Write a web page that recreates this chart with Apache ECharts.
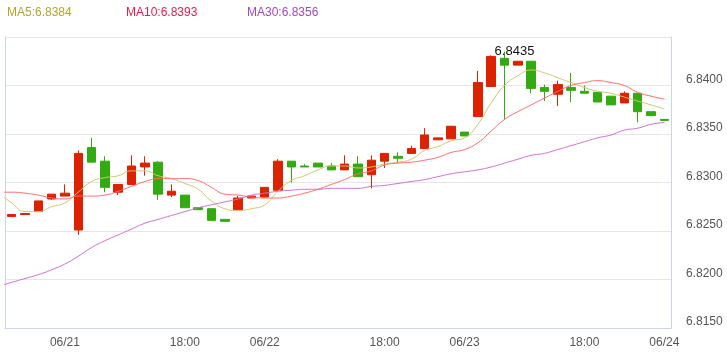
<!DOCTYPE html>
<html>
<head>
<meta charset="utf-8">
<script src="https://cdn.jsdelivr.net/npm/echarts@6/dist/echarts.min.js"></script>
<style>
  html, body { margin: 0; padding: 0; background: #fff; }
  #chart { width: 727px; height: 355px; }
</style>
</head>
<body>
<div id="chart"></div>
<script>
// x-axis labels sit on these candle indices
const labelIdx = [4, 13, 19, 28, 34, 43, 49];
const labelText = ['06/21', '18:00', '06/22', '18:00', '06/23', '18:00', '06/24'];
const candleCount = 50;

// OHLC
const openV = [6.8265, 6.8267, 6.8270, 6.8283, 6.8286, 6.8251, 6.8336, 6.8322, 6.8290, 6.8298,
  6.8316, 6.8321, 6.8287, 6.8287, 6.8274, 6.8273, 6.8262, 6.8272, 6.8284, 6.8285,
  6.8292, 6.8322, 6.8317, 6.8320, 6.8317, 6.8313, 6.8319, 6.8308, 6.8322, 6.8327,
  6.8330, 6.8335, 6.8344, 6.8345, 6.8352, 6.8368, 6.8399, 6.8428, 6.8421, 6.8425,
  6.8398, 6.8391, 6.8398, 6.8394, 6.8393, 6.8389, 6.8382, 6.8392, 6.8373, 6.8365];
const closeV = [6.8267, 6.8268, 6.8281, 6.8288, 6.8289, 6.8330, 6.8321, 6.8295, 6.8298, 6.8317,
  6.8320, 6.8288, 6.8291, 6.8274, 6.8272, 6.8261, 6.8260, 6.8284, 6.8286, 6.8295,
  6.8322, 6.8316, 6.8316, 6.8316, 6.8313, 6.8319, 6.8306, 6.8323, 6.8330, 6.8325,
  6.8335, 6.8349, 6.8346, 6.8358, 6.8348, 6.8403, 6.8430, 6.8421, 6.8425, 6.8397,
  6.8394, 6.8401, 6.8395, 6.8392, 6.8383, 6.8380, 6.8392, 6.8373, 6.8369, 6.8364];
const lowV = [6.8265, 6.8267, 6.8270, 6.8282, 6.8286, 6.8246, 6.8321, 6.8290, 6.8287, 6.8298,
  6.8307, 6.8282, 6.8285, 6.8274, 6.8272, 6.8261, 6.8260, 6.8272, 6.8284, 6.8285,
  6.8292, 6.8300, 6.8316, 6.8316, 6.8313, 6.8313, 6.8306, 6.8294, 6.8315, 6.8320,
  6.8330, 6.8335, 6.8344, 6.8345, 6.8348, 6.8368, 6.8399, 6.8365, 6.8421, 6.8392,
  6.8384, 6.8379, 6.8383, 6.8392, 6.8383, 6.8380, 6.8382, 6.8362, 6.8369, 6.8364];
const highV = [6.8267, 6.8268, 6.8281, 6.8288, 6.8298, 6.8333, 6.8346, 6.8327, 6.8298, 6.8328,
  6.8327, 6.8322, 6.8298, 6.8287, 6.8274, 6.8273, 6.8262, 6.8286, 6.8286, 6.8295,
  6.8324, 6.8322, 6.8319, 6.8320, 6.8320, 6.8328, 6.8327, 6.8328, 6.8330, 6.8331,
  6.8338, 6.8356, 6.8346, 6.8358, 6.8352, 6.8415, 6.8431, 6.8435, 6.8425, 6.8425,
  6.8401, 6.8405, 6.8413, 6.8400, 6.8393, 6.8389, 6.8394, 6.8392, 6.8373, 6.8365];

// moving averages, first value belongs to the candle just left of the window (index -1)
const ma5 = [6.8289, 6.8279, 6.8270, 6.8270, 6.8275, 6.8279, 6.8290, 6.8301, 6.8305, 6.8307,
  6.8312, 6.8312, 6.8307, 6.8304, 6.8299, 6.8293, 6.8281, 6.8273, 6.8271, 6.8273,
  6.8277, 6.8291, 6.8302, 6.8307, 6.8313, 6.8317, 6.8317, 6.8315, 6.8316, 6.8319,
  6.8321, 6.8324, 6.8333, 6.8337, 6.8343, 6.8346, 6.8360, 6.8382, 6.8400, 6.8410,
  6.8416, 6.8413, 6.8408, 6.8403, 6.8398, 6.8394, 6.8392, 6.8388, 6.8384, 6.8380, 6.8376];
const ma10 = [6.8290, 6.8290, 6.8289, 6.8287, 6.8284, 6.8283, 6.8286, 6.8286, 6.8287, 6.8291,
  6.8296, 6.8301, 6.8304, 6.8304, 6.8304, 6.8302, 6.8295, 6.8288, 6.8287, 6.8285,
  6.8284, 6.8284, 6.8286, 6.8289, 6.8293, 6.8298, 6.8303, 6.8309, 6.8312, 6.8318,
  6.8320, 6.8321, 6.8323, 6.8326, 6.8331, 6.8334, 6.8341, 6.8353, 6.8365, 6.8373,
  6.8380, 6.8387, 6.8394, 6.8400, 6.8403, 6.8405, 6.8403, 6.8400, 6.8393, 6.8389, 6.8386];
const ma30 = [6.8193, 6.8197, 6.8201, 6.8205, 6.8210, 6.8216, 6.8224, 6.8233, 6.8240, 6.8246,
  6.8252, 6.8258, 6.8262, 6.8266, 6.8270, 6.8274, 6.8277, 6.8280, 6.8283, 6.8287,
  6.8289, 6.8291, 6.8292, 6.8293, 6.8293, 6.8294, 6.8294, 6.8294, 6.8296, 6.8297,
  6.8299, 6.8301, 6.8303, 6.8306, 6.8309, 6.8311, 6.8313, 6.8316, 6.8320, 6.8324,
  6.8328, 6.8330, 6.8334, 6.8338, 6.8342, 6.8346, 6.8349, 6.8354, 6.8356, 6.8360, 6.8362];

// legend shows the averages at this candle
const legendIdx = 47;

const categories = [];
for (let i = 0; i < candleCount; i++) {
  const k = labelIdx.indexOf(i);
  categories.push(k >= 0 ? labelText[k] : String(i));
}
const candles = openV.map((o, i) => [o, closeV[i], lowV[i], highV[i]]);
const toLine = arr => arr.map((v, i) => [i - 1, v]);

const chart = echarts.init(document.getElementById('chart'), null, { renderer: 'canvas' });

const maDefs = [
  { name: 'MA5', data: ma5, line: '#cfc56e', text: '#b3a42b', left: 7 },
  { name: 'MA10', data: ma10, line: '#ff6a6a', text: '#f0174a', left: 126 },
  { name: 'MA30', data: ma30, line: '#cc70cc', text: '#a048c0', left: 247 }
];

const isLabel = idx => labelIdx.indexOf(idx) >= 0;

chart.setOption({
  animation: false,
  textStyle: { fontFamily: 'Liberation Sans, Arial, sans-serif' },
  grid: { left: 5, right: 56, top: 37, bottom: 27 },
  graphic: maDefs.map(m => ({
    type: 'text',
    left: m.left,
    top: 7,
    style: {
      text: m.name + ':' + m.data[legendIdx + 1].toFixed(4),
      fill: m.text,
      font: '12px "Liberation Sans", Arial, sans-serif'
    }
  })),
  xAxis: [{
    type: 'category',
    data: categories,
    boundaryGap: true,
    axisLine: { onZero: false, lineStyle: { color: '#ccd6eb' } },
    axisTick: { inside: true, length: 10, alignWithLabel: true, interval: isLabel, lineStyle: { color: '#ccd6eb' } },
    axisLabel: { interval: isLabel, color: '#555', fontSize: 12, margin: 9 },
    splitLine: { show: false }
  }, {
    type: 'value',
    min: -0.5,
    max: candleCount - 0.5,
    show: false
  }],
  yAxis: [{
    type: 'value',
    position: 'right',
    min: 6.815,
    max: 6.845,
    interval: 0.005,
    axisLine: { show: true, onZero: false, lineStyle: { color: '#ccd6eb' } },
    axisTick: { show: false },
    axisLabel: {
      showMaxLabel: false,
      color: '#555',
      fontSize: 12,
      margin: 15,
      verticalAlign: 'bottom',
      formatter: v => v.toFixed(4)
    },
    splitLine: { lineStyle: { color: '#e6e6e6' } }
  }, {
    type: 'value',
    position: 'left',
    min: 6.815,
    max: 6.845,
    axisLine: { show: true, onZero: false, lineStyle: { color: '#ccd6eb' } },
    axisTick: { show: false },
    axisLabel: { show: false },
    splitLine: { show: false }
  }],
  series: [{
    type: 'candlestick',
    xAxisIndex: 0,
    yAxisIndex: 0,
    data: candles,
    barWidth: 9,
    itemStyle: {
      color: '#dd2200',
      color0: '#33aa11',
      borderColor: '#dd2200',
      borderColor0: '#33aa11',
      borderWidth: 1
    },
    markPoint: {
      symbol: 'circle',
      symbolSize: 1,
      itemStyle: { color: 'rgba(0,0,0,0)' },
      label: {
        show: true,
        position: 'inside',
        offset: [10, 0],
        color: '#111',
        fontSize: 13,
        formatter: p => Number(p.value).toFixed(4)
      },
      data: [{ type: 'max', valueDim: 'highest' }]
    }
  }].concat(maDefs.map(m => ({
    type: 'line',
    name: m.name,
    xAxisIndex: 1,
    yAxisIndex: 0,
    data: toLine(m.data),
    smooth: true,
    showSymbol: false,
    symbol: 'none',
    clip: true,
    lineStyle: { color: m.line, width: 1 },
    z: 3
  })))
});
</script>
</body>
</html>
